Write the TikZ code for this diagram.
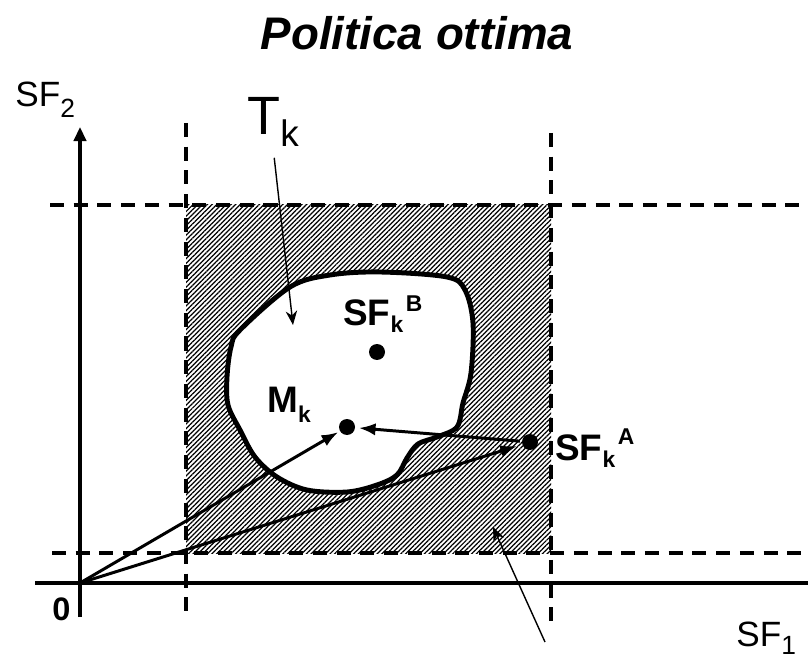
\documentclass[tikz,border=0pt]{standalone}
\usepackage{fontspec}
\setmainfont{Liberation Sans}
\usetikzlibrary{arrows.meta,patterns.meta}
\tikzset{
  guide/.style={line width=2.1pt, dash pattern=on 8pt off 5.5pt},
  axis/.style={line width=2.2pt},
  dot/.style={circle, fill=black, inner sep=0pt, minimum size=0.32cm},
  vec/.style={line width=1.7pt, -{Latex[length=9.5pt,width=7pt]}},
  pointer/.style={line width=0.8pt, -{Stealth[length=8pt,width=6.5pt]}},
  lbl/.style={inner sep=0pt, anchor=base west},
  bigbold/.style={lbl, font=\fontsize{21}{24}\selectfont\bfseries},
}
\newcommand{\lowidx}[2]{\raisebox{-#1}{\fontsize{13}{15}\selectfont #2}}
\newcommand{\highidx}[2]{\raisebox{#1}{\fontsize{13}{15}\selectfont #2}}

\begin{document}
\begin{tikzpicture}[x=0.02cm, y=-0.02cm]
  \useasboundingbox (0,0) rectangle (808,662);

  %% Title
  \node[lbl, anchor=base, font=\fontsize{26}{30}\selectfont\bfseries\itshape] (title) at (417,50) {Politica ottima};

  %% Admissible region (hatched)
  \fill[pattern={Lines[angle=45,distance=1.9pt,line width=0.7pt]}] (186,205) rectangle (551,553);

  %% Target set T_k
  \draw[line width=2.8pt, fill=white] plot[smooth cycle, tension=0.55] coordinates {
    (240,330) (290,287) (330,275) (380,272) (447,277) (465,290) (473,323)
    (471,373) (463,403) (457,427) (437,437) (418,444) (407,458) (397,475)
    (377,485) (347,492) (307,490) (277,477) (255,457) (240,430) (228,405)
    (227,377) (231,347)};

  %% Dashed bounds
  \draw[guide] (50,205) -- (808,205);
  \draw[guide] (52,553) -- (808,553);
  \draw[guide] (186,123) -- (186,617);
  \draw[guide] (551,133) -- (551,627);

  %% Axes
  \coordinate (O) at (80,583);
  \draw[axis] (35,583) -- (824,583);
  \draw[axis, -{Triangle[length=8pt,width=7pt]}] (80,617) -- (80,127);
  \node[lbl, font=\fontsize{20}{24}\selectfont] (sftwo) at (15,107) {SF\raisebox{-5.7pt}{\fontsize{15}{18}\selectfont 2}};
  \node[lbl, font=\fontsize{20}{24}\selectfont] (sfone) at (736,646) {SF\raisebox{-5pt}{\fontsize{15}{18}\selectfont 1}};
  \node[lbl, font=\fontsize{18.5}{22}\selectfont\bfseries] (zero) at (52,620) {0};

  %% Points
  \node[dot] (dotB) at (377,352) {};
  \node[dot] (dotM) at (347,427) {};
  \node[dot] (dotA) at (530,442) {};
  \node[bigbold] (sfb) at (343,325) {SF\lowidx{4.5pt}{k}\hspace{1.5pt}\highidx{7.4pt}{B}};
  \node[bigbold] (mk) at (267,412) {M\lowidx{5.7pt}{k}};
  \node[bigbold] (sfa) at (555,460) {SF\lowidx{4.5pt}{k}\hspace{1.5pt}\highidx{9pt}{A}};

  %% Vectors
  \draw[vec, shorten >=1pt] (O) -- (dotM);
  \draw[vec, shorten >=3pt] (O) -- (dotA);
  \draw[vec, shorten <=1pt, shorten >=2pt] (dotA) -- (dotM);

  %% Label T_k and pointers
  \node[lbl, font=\fontsize{30.7}{34}\selectfont] (tk) at (247,135) {T\raisebox{-6.8pt}{\fontsize{21}{24}\selectfont k}};
  \coordinate (tkto) at (293,325);
  \draw[pointer, shorten <=6pt] (tk.south) -- (tkto);
  \coordinate (regfrom) at (545,642);
  \coordinate (regto) at (493,527);
  \draw[pointer] (regfrom) -- (regto);
\end{tikzpicture}
\end{document}
